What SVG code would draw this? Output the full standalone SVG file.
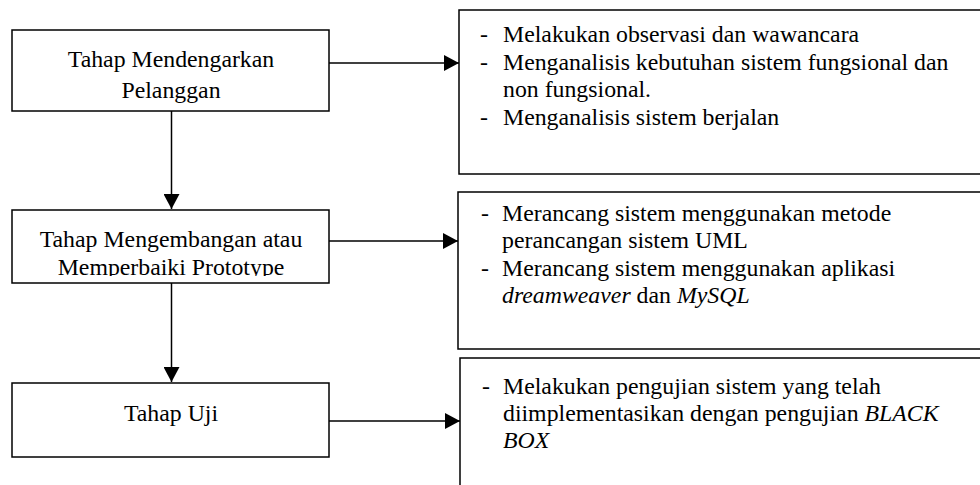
<svg xmlns="http://www.w3.org/2000/svg" width="980" height="485" viewBox="0 0 980 485">
  <style>
    .box { fill: #ffffff; stroke: #000000; stroke-width: 1.5; }
    .link { fill: none; stroke: #000000; stroke-width: 1.5; }
    .t { font-family: "Liberation Serif", "Times New Roman", serif; font-size: 23.8px; fill: #000000; }
    .c { text-anchor: middle; }
    .i { font-style: italic; }
  </style>
  <defs>
    <marker id="arrow" markerUnits="userSpaceOnUse" markerWidth="16" markerHeight="16" refX="15" refY="8" orient="auto">
      <path d="M0,0 L15,8 L0,16 Z" fill="#000000"/>
    </marker>
    <!-- the second line of the middle stage is cut off by its frame -->
    <clipPath id="stage2clip">
      <rect x="12" y="210" width="317" height="66"/>
    </clipPath>
  </defs>

  <rect width="980" height="485" fill="#ffffff"/>

  <!-- stages -->
  <g id="stage-listen">
    <rect class="box" x="12" y="30" width="317" height="81"/>
    <text class="t c" x="171" y="66.5">Tahap Mendengarkan</text>
    <text class="t c" x="171" y="97.5">Pelanggan</text>
  </g>

  <g id="stage-build">
    <rect class="box" x="12" y="210" width="317" height="73"/>
    <g clip-path="url(#stage2clip)">
      <text class="t c" x="171" y="246.5">Tahap Mengembangan atau</text>
      <text class="t c" x="171" y="275">Memperbaiki Prototype</text>
    </g>
  </g>

  <g id="stage-test">
    <rect class="box" x="12" y="383" width="317" height="74"/>
    <text class="t c" x="171" y="421">Tahap Uji</text>
  </g>

  <!-- activity lists -->
  <g id="activities-listen">
    <rect class="box" x="459" y="10" width="540" height="164"/>
    <text class="t" x="480" y="42">-</text>
    <text class="t" x="503" y="42">Melakukan observasi dan wawancara</text>
    <text class="t" x="480" y="70">-</text>
    <text class="t" x="503" y="70">Menganalisis kebutuhan sistem fungsional dan</text>
    <text class="t" x="503" y="97">non fungsional.</text>
    <text class="t" x="480" y="124.5">-</text>
    <text class="t" x="503" y="124.5">Menganalisis sistem berjalan</text>
  </g>

  <g id="activities-build">
    <rect class="box" x="458" y="192" width="540" height="157"/>
    <text class="t" x="481" y="221">-</text>
    <text class="t" x="502" y="221">Merancang sistem menggunakan metode</text>
    <text class="t" x="502" y="248">perancangan sistem UML</text>
    <text class="t" x="481" y="275.5">-</text>
    <text class="t" x="502" y="275.5">Merancang sistem menggunakan aplikasi</text>
    <text class="t" x="502" y="303"><tspan class="i">dreamweaver</tspan> dan <tspan class="i">MySQL</tspan></text>
  </g>

  <g id="activities-test">
    <rect class="box" x="460" y="358" width="540" height="140"/>
    <text class="t" x="482" y="393.5">-</text>
    <text class="t" x="503" y="393.5">Melakukan pengujian sistem yang telah</text>
    <text class="t" x="503" y="420.5">diimplementasikan dengan pengujian <tspan class="i">BLACK</tspan></text>
    <text class="t i" x="503" y="447.5">BOX</text>
  </g>

  <!-- connectors -->
  <g id="connectors">
    <line class="link" x1="329" y1="63" x2="459" y2="63" marker-end="url(#arrow)"/>
    <line class="link" x1="329" y1="241" x2="458" y2="241" marker-end="url(#arrow)"/>
    <line class="link" x1="329" y1="421" x2="460" y2="421" marker-end="url(#arrow)"/>
    <line class="link" x1="171.5" y1="111" x2="171.5" y2="209" marker-end="url(#arrow)"/>
    <line class="link" x1="171.5" y1="283" x2="171.5" y2="382" marker-end="url(#arrow)"/>
  </g>
</svg>
